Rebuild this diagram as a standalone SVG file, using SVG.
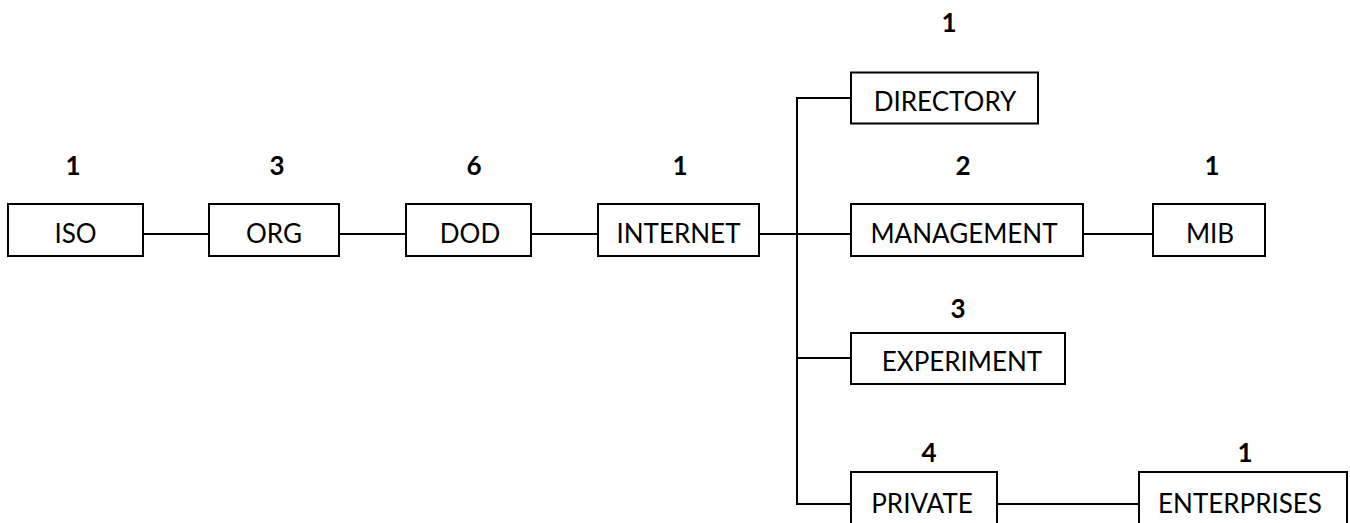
<svg xmlns="http://www.w3.org/2000/svg" width="1350" height="523" viewBox="0 0 1350 523">
  <style>
    .box { fill: #ffffff; stroke: #000000; stroke-width: 2; }
    .lbl { font-family: Lato, "Open Sans", "Liberation Sans", sans-serif; font-size: 26px; fill: #000000; text-anchor: middle; }
    .num { font-family: Lato, "Open Sans", "Liberation Sans", sans-serif; font-size: 26px; font-weight: bold; fill: #000000; text-anchor: middle; }
    .wire { fill: none; stroke: #000000; stroke-width: 2; }
  </style>
  <rect width="1350" height="523" fill="#ffffff"/>

  <!-- connectors -->
  <g id="connectors">
    <line class="wire" x1="143" y1="234" x2="209" y2="234"/>
    <line class="wire" x1="339" y1="234" x2="406" y2="234"/>
    <line class="wire" x1="531" y1="234" x2="598" y2="234"/>
    <line class="wire" x1="759" y1="234" x2="851" y2="234"/>
    <polyline class="wire" points="851,98 797,98 797,504 851,504"/>
    <line class="wire" x1="797" y1="358" x2="851" y2="358"/>
    <line class="wire" x1="1083" y1="234" x2="1153" y2="234"/>
    <line class="wire" x1="997" y1="504" x2="1139" y2="504"/>
  </g>

  <g id="iso">
    <rect class="box" x="8" y="204" width="135" height="52"/>
    <text class="lbl" x="75.5" y="243">ISO</text>
    <text class="num" x="73" y="175">1</text>
  </g>
  <g id="org">
    <rect class="box" x="209" y="204" width="130" height="52"/>
    <text class="lbl" x="274" y="243">ORG</text>
    <text class="num" x="277" y="175">3</text>
  </g>
  <g id="dod">
    <rect class="box" x="406" y="204" width="125" height="52"/>
    <text class="lbl" x="470" y="243">DOD</text>
    <text class="num" x="474" y="175">6</text>
  </g>
  <g id="internet">
    <rect class="box" x="598" y="204" width="161" height="52"/>
    <text class="lbl" x="678.5" y="243">INTERNET</text>
    <text class="num" x="680" y="175">1</text>
  </g>
  <g id="directory">
    <rect class="box" x="851" y="72.5" width="187" height="51"/>
    <text class="lbl" x="945" y="111">DIRECTORY</text>
    <text class="num" x="949" y="32">1</text>
  </g>
  <g id="management">
    <rect class="box" x="851" y="204" width="232" height="52"/>
    <text class="lbl" x="964" y="243">MANAGEMENT</text>
    <text class="num" x="963" y="175">2</text>
  </g>
  <g id="mib">
    <rect class="box" x="1153" y="204" width="112" height="52"/>
    <text class="lbl" x="1210" y="243">MIB</text>
    <text class="num" x="1212" y="175">1</text>
  </g>
  <g id="experiment">
    <rect class="box" x="851" y="333" width="214" height="51"/>
    <text class="lbl" x="962" y="371">EXPERIMENT</text>
    <text class="num" x="958" y="318">3</text>
  </g>
  <g id="private">
    <rect class="box" x="851" y="472" width="146" height="70"/>
    <text class="lbl" x="922" y="513">PRIVATE</text>
    <text class="num" x="929" y="462">4</text>
  </g>
  <g id="enterprises">
    <rect class="box" x="1139" y="472" width="208" height="70"/>
    <text class="lbl" x="1240" y="513">ENTERPRISES</text>
    <text class="num" x="1245" y="462">1</text>
  </g>
</svg>
